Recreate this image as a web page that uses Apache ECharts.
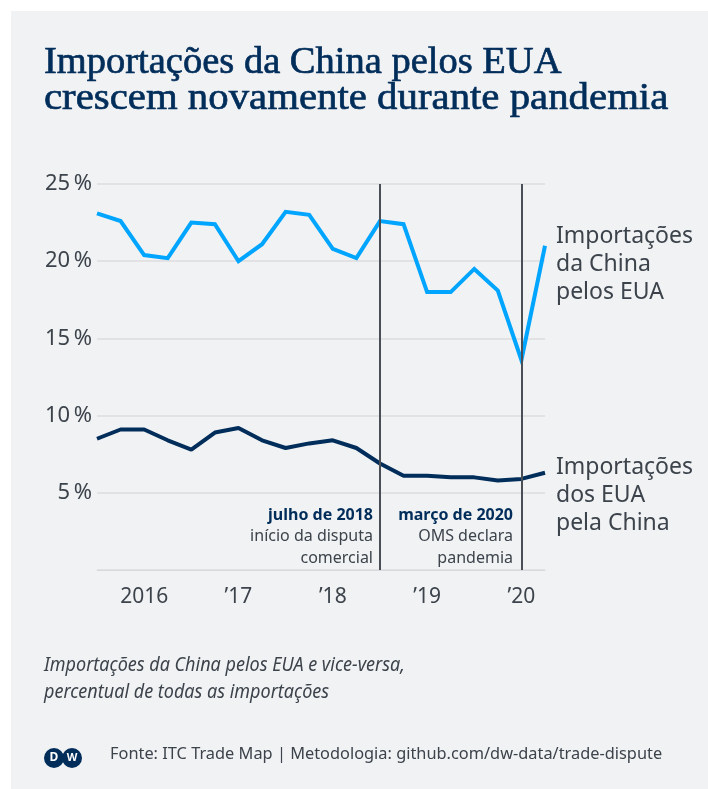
<!DOCTYPE html>
<html>
<head>
<meta charset="utf-8">
<script src="https://cdn.jsdelivr.net/npm/echarts@6/dist/echarts.min.js"></script>
<style>
html,body{margin:0;padding:0;background:#fff;}
#chart{width:708px;height:789px;}
</style>
</head>
<body>
<div id="chart"></div>
<script>
var quarters = ['2015 T3','2015 T4','2016 T1','2016 T2','2016 T3','2016 T4','2017 T1','2017 T2','2017 T3','2017 T4','2018 T1','2018 T2','2018 T3','2018 T4','2019 T1','2019 T2','2019 T3','2019 T4','2020 T1','2020 T2'];
var chinaShareUS = [23.1,22.6,20.4,20.2,22.5,22.4,20.0,21.1,23.2,23.0,20.8,20.2,22.6,22.4,18.0,18.0,19.5,18.1,13.6,21.0];
var usShareChina = [8.5,9.1,9.1,8.4,7.8,8.9,9.2,8.4,7.9,8.2,8.4,7.9,6.9,6.1,6.1,6.0,6.0,5.8,5.9,6.3];
var xTickLabels = {'2016 T1':'2016','2017 T1':'\u201917','2018 T1':'\u201918','2019 T1':'\u201919','2020 T1':'\u201920'};
var yTicks = [0,5,10,15,20,25];
var eventQuarters = ['2018 T3','2020 T1'];

var chart = echarts.init(document.getElementById('chart'), null, {renderer:'canvas'});
var sans = '"Noto Sans", "Open Sans", sans-serif';
var textCol = '#3c434b';
var navy = '#002d5a';
var titleFont = '38.5px "Liberation Serif", serif';

chart.setOption({
  backgroundColor: '#ffffff',
  animation: false,
  grid: {left: 97, right: 163, top: 184, bottom: 219, containLabel: false},
  xAxis: {
    type: 'category',
    data: quarters,
    boundaryGap: false,
    axisLine: {show: true, lineStyle: {color: '#d8d9dc', width: 1}},
    axisTick: {show: false},
    splitLine: {show: false},
    axisLabel: {
      interval: function(i, v){ return xTickLabels.hasOwnProperty(v); },
      formatter: function(v){ return xTickLabels[v] || ''; },
      color: textCol, fontFamily: sans, fontSize: 21, margin: 17
    }
  },
  yAxis: {
    type: 'value', min: yTicks[0], max: yTicks[yTicks.length-1], interval: 5,
    axisLine: {show: false}, axisTick: {show: false},
    splitLine: {lineStyle: {color: '#dcdde0', width: 1.5}},
    axisLabel: {
      formatter: function(v){ return v === 0 ? '' : v + '\u2009%'; },
      color: textCol, fontFamily: sans, fontSize: 22, margin: 5
    }
  },
  series: [
    {
      type: 'line', data: chinaShareUS, symbol: 'none',
      lineStyle: {color: '#00a5ff', width: 4, join: 'miter'},
      markLine: {
        silent: true, symbol: 'none', label: {show: false},
        lineStyle: {color: '#4a4f56', width: 2, type: 'solid'},
        data: eventQuarters.map(function(q){ return {xAxis: q}; })
      },
      z: 3
    },
    {
      type: 'line', data: usShareChina, symbol: 'none',
      lineStyle: {color: navy, width: 4}, z: 3
    }
  ],
  graphic: [
    {type: 'rect', left: 11, top: 11, shape: {width: 697, height: 778}, style: {fill: '#f1f2f4'}, z: -10, silent: true},
    {type: 'text', x: 44, y: 43, style: {
      text: 'Importações da China pelos EUA',
      font: titleFont, fill: navy, stroke: navy, lineWidth: 0.7}},
    {type: 'text', x: 44, y: 79, scaleX: 1.06, style: {
      text: 'crescem novamente durante pandemia',
      font: titleFont, fill: navy, stroke: navy, lineWidth: 0.7}},
    {type: 'text', left: 556, top: 222, style: {
      text: 'Importações\nda China\npelos EUA', font: '23px ' + sans, fill: textCol, lineHeight: 28}},
    {type: 'text', left: 556, top: 453, style: {
      text: 'Importações\ndos EUA\npela China', font: '23px ' + sans, fill: textCol, lineHeight: 28}},
    {type: 'text', right: 708-373, top: 507, style: {
      text: '{b|julho de 2018}\n{n|início da disputa}\n{n|comercial}', align: 'right',
      rich: {b: {font: 'bold 16px ' + sans, fill: navy, lineHeight: 22, align: 'right'},
             n: {font: '16px ' + sans, fill: textCol, lineHeight: 21.5, align: 'right'}}}},
    {type: 'text', right: 708-513, top: 507, style: {
      text: '{b|março de 2020}\n{n|OMS declara}\n{n|pandemia}', align: 'right',
      rich: {b: {font: 'bold 16px ' + sans, fill: navy, lineHeight: 22, align: 'right'},
             n: {font: '16px ' + sans, fill: textCol, lineHeight: 21.5, align: 'right'}}}},
    {type: 'text', x: 44, y: 652, scaleX: 0.9, style: {
      text: 'Importações da China pelos EUA e vice-versa,\npercentual de todas as importações',
      font: 'italic 20px ' + sans, fill: textCol, lineHeight: 27}},
    {type: 'circle', shape: {cx: 54, cy: 758, r: 10}, style: {fill: navy}},
    {type: 'circle', shape: {cx: 72, cy: 758, r: 10}, style: {fill: navy}},
    {type: 'text', x: 54, y: 758, style: {text: 'D', font: 'bold 12px ' + sans, fill: '#fff', align: 'center', verticalAlign: 'middle'}},
    {type: 'text', x: 72, y: 758, style: {text: 'W', font: 'bold 11px ' + sans, fill: '#fff', align: 'center', verticalAlign: 'middle'}},
    {type: 'text', x: 110, y: 746, scaleX: 0.962, style: {
      text: 'Fonte: ITC Trade Map | Metodologia: github.com/dw-data/trade-dispute',
      font: '17px ' + sans, fill: textCol}}
  ]
});
</script>
</body>
</html>
